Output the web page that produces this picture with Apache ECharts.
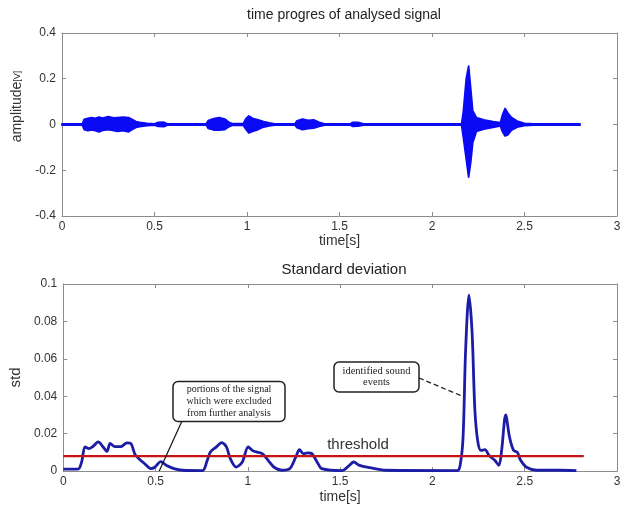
<!DOCTYPE html>
<html>
<head>
<meta charset="utf-8">
<script src="https://cdn.jsdelivr.net/npm/echarts@6/dist/echarts.min.js"></script>
<style>
html, body { margin: 0; padding: 0; background: #fff; }
#main { width: 628px; height: 511px; }
</style>
</head>
<body>
<div id="main"></div>
<script>
// envelope of the recorded signal (time [s], upper / lower amplitude [V])
var sigT  = [0, 0.11, 0.12, 0.14, 0.16, 0.18, 0.2, 0.22, 0.25, 0.28, 0.3, 0.33, 0.36, 0.38, 0.4, 0.42, 0.46, 0.5, 0.52, 0.55, 0.57,
             0.78, 0.79, 0.82, 0.85, 0.88, 0.9, 0.92, 0.98, 0.995, 1.01, 1.03, 1.06, 1.09, 1.12, 1.15,
             1.26, 1.27, 1.3, 1.33, 1.36, 1.39, 1.42, 1.56, 1.57, 1.6, 1.63,
             2.16, 2.17, 2.185, 2.198, 2.21, 2.22, 2.24, 2.28, 2.33, 2.37, 2.38, 2.395, 2.41, 2.43, 2.46, 2.5, 2.55, 2.8];
var sigHi = [0.003, 0.003, 0.022, 0.027, 0.03, 0.027, 0.032, 0.028, 0.034, 0.029, 0.03, 0.032, 0.03, 0.022, 0.013, 0.009, 0.005, 0.003, 0.009, 0.01, 0.003,
             0.003, 0.017, 0.026, 0.03, 0.024, 0.011, 0.004, 0.004, 0.027, 0.037, 0.027, 0.02, 0.013, 0.007, 0.003,
             0.003, 0.016, 0.024, 0.018, 0.02, 0.009, 0.003, 0.003, 0.009, 0.009, 0.003,
             0.003, 0.06, 0.2, 0.255, 0.15, 0.06, 0.03, 0.02, 0.012, 0.008, 0.04, 0.07, 0.05, 0.03, 0.015, 0.005, 0.003, 0.003];
var sigLo = [-0.003, -0.003, -0.022, -0.027, -0.024, -0.027, -0.032, -0.026, -0.022, -0.027, -0.03, -0.027, -0.032, -0.022, -0.013, -0.009, -0.005, -0.003, -0.008, -0.009, -0.003,
             -0.003, -0.017, -0.024, -0.024, -0.022, -0.011, -0.004, -0.004, -0.022, -0.037, -0.03, -0.022, -0.011, -0.006, -0.003,
             -0.003, -0.014, -0.022, -0.018, -0.016, -0.008, -0.003, -0.003, -0.008, -0.007, -0.003,
             -0.003, -0.06, -0.15, -0.23, -0.16, -0.08, -0.03, -0.02, -0.012, -0.006, -0.03, -0.05, -0.045, -0.025, -0.012, -0.005, -0.003, -0.003];

// moving standard deviation
var stdT = [0, 0.08, 0.1, 0.118, 0.14, 0.16, 0.19, 0.215, 0.237, 0.254, 0.28, 0.31, 0.345, 0.366, 0.388, 0.41, 0.44, 0.474, 0.496, 0.528, 0.56, 0.6, 0.646,
            0.754, 0.78, 0.797, 0.83, 0.858, 0.884, 0.905, 0.937, 0.97, 1.002, 1.024, 1.045, 1.078, 1.11, 1.142, 1.185,
            1.228, 1.26, 1.28, 1.3, 1.325, 1.347, 1.38, 1.4, 1.51, 1.55, 1.573, 1.606, 1.66, 1.746,
            2.134, 2.15, 2.166, 2.18, 2.198, 2.215, 2.23, 2.246, 2.263, 2.285, 2.306, 2.338, 2.36, 2.375, 2.397, 2.418, 2.44, 2.46, 2.478, 2.51, 2.565, 2.69, 2.78];
var stdV = [0.001, 0.001, 0.005, 0.0129, 0.012, 0.013, 0.0156, 0.013, 0.0105, 0.0147, 0.013, 0.013, 0.015, 0.0147, 0.009, 0.0066, 0.004, 0.0013, 0.002, 0.005, 0.003, 0.0013, 0.0004,
            0.0002, 0.0057, 0.0102, 0.0129, 0.0152, 0.0129, 0.0066, 0.0021, 0.0048, 0.0129, 0.011, 0.0102, 0.0093, 0.0057, 0.002, 0.0004,
            0.0013, 0.0075, 0.0114, 0.0093, 0.0097, 0.0093, 0.004, 0.0013, 0.0002, 0.003, 0.0048, 0.003, 0.0018, 0.0004,
            0.0002, 0.003, 0.018, 0.065, 0.094, 0.074, 0.0326, 0.0156, 0.011, 0.0114, 0.0084, 0.0057, 0.003, 0.011, 0.03, 0.018, 0.011, 0.01, 0.0057, 0.002, 0.0004, 0.0004, 0.0002];

var thresholdValue = 0.008;
var thresholdEnd = 2.82;

// annotation anchors (data coords)
var excludedPoint = [0.52, 0];
var eventPoint = [2.169, 0.0397];

var myChart = echarts.init(document.getElementById('main'));

var axisGray = '#8c8c8c';
var labelStyle = { color: '#333', fontSize: 12, fontFamily: 'Liberation Sans, Arial, sans-serif', showMinLabel: true, showMaxLabel: true };

function xAxes(grid, nameGap) {
    return [{
        gridIndex: grid, type: 'value', min: 0, max: 3, interval: 0.5, position: 'bottom',
        name: 'time[s]', nameLocation: 'middle', nameGap: nameGap,
        nameTextStyle: { color: '#333', fontSize: 14, fontFamily: 'Liberation Sans, Arial, sans-serif' },
        axisLine: { show: true, onZero: false, lineStyle: { color: axisGray } },
        axisTick: { show: true, inside: true, length: 4, lineStyle: { color: axisGray } },
        axisLabel: Object.assign({ margin: 5 }, labelStyle),
        splitLine: { show: false }
    }, {
        gridIndex: grid, type: 'value', min: 0, max: 3, interval: 0.5, position: 'top',
        axisLine: { show: true, onZero: false, lineStyle: { color: axisGray } },
        axisTick: { show: true, inside: true, length: 4, lineStyle: { color: axisGray } },
        axisLabel: { show: false }, splitLine: { show: false }
    }];
}

function yAxes(grid, min, max, interval, name, nameStyle) {
    return [{
        gridIndex: grid, type: 'value', min: min, max: max, interval: interval, position: 'left',
        name: name, nameLocation: 'middle', nameGap: 36,
        nameTextStyle: nameStyle,
        axisLine: { show: true, onZero: false, lineStyle: { color: axisGray } },
        axisTick: { show: true, inside: true, length: 4, lineStyle: { color: axisGray } },
        axisLabel: Object.assign({ margin: 6 }, labelStyle),
        splitLine: { show: false }
    }, {
        gridIndex: grid, type: 'value', min: min, max: max, interval: interval, position: 'right',
        axisLine: { show: true, onZero: false, lineStyle: { color: axisGray } },
        axisTick: { show: true, inside: true, length: 4, lineStyle: { color: axisGray } },
        axisLabel: { show: false }, splitLine: { show: false }
    }];
}

var option = {
    animation: false,
    backgroundColor: '#fff',
    title: [{
        text: 'time progres of analysed signal', left: 339, top: 3, textAlign: 'center',
        textStyle: { fontSize: 14, fontWeight: 'normal', color: '#222', fontFamily: 'Liberation Sans, Arial, sans-serif' }
    }, {
        text: 'Standard deviation', left: 339, top: 257, textAlign: 'center',
        textStyle: { fontSize: 15, fontWeight: 'normal', color: '#222', fontFamily: 'Liberation Sans, Arial, sans-serif' }
    }],
    grid: [
        { left: 62, right: 11, top: 33, height: 183 },
        { left: 62, right: 11, top: 284, height: 187 }
    ],
    xAxis: xAxes(0, 15).concat(xAxes(1, 19)),
    yAxis: yAxes(0, -0.4, 0.4, 0.2, '{a|amplitude}{b|[V]}', {
        color: '#333', fontFamily: 'Liberation Sans, Arial, sans-serif', padding: [0, 0, 0, 36],
        rich: { a: { fontSize: 14, color: '#333' }, b: { fontSize: 9, color: '#333' } }
    }).concat(yAxes(1, 0, 0.1, 0.02, 'std', {
        color: '#333', fontSize: 15, fontFamily: 'Liberation Sans, Arial, sans-serif'
    })),
    series: [{
        name: 'signal',
        type: 'custom',
        xAxisIndex: 0, yAxisIndex: 0,
        data: sigT.map(function (t, i) { return [t, sigHi[i], sigLo[i]]; }),
        encode: { x: 0, y: [1, 2] },
        renderItem: function (params, api) {
            if (params.dataIndex !== 0) return null;
            var pts = [], i;
            for (i = 0; i < sigT.length; i++) pts.push(api.coord([sigT[i], sigHi[i]]));
            for (i = sigT.length - 1; i >= 0; i--) pts.push(api.coord([sigT[i], sigLo[i]]));
            return {
                type: 'polygon',
                shape: { points: pts },
                style: { fill: '#0a0af5', stroke: '#0a0af5', lineWidth: 1.8, lineJoin: 'round' }
            };
        }
    }, {
        name: 'std',
        type: 'line',
        xAxisIndex: 2, yAxisIndex: 2,
        data: stdT.map(function (t, i) { return [t, stdV[i]]; }),
        showSymbol: false,
        smooth: 0.3,
        lineStyle: { color: '#1c1ca6', width: 2.8 },
        z: 3
    }, {
        name: 'threshold',
        type: 'line',
        xAxisIndex: 2, yAxisIndex: 2,
        data: [[0, thresholdValue], [thresholdEnd, thresholdValue]],
        showSymbol: false,
        lineStyle: { color: '#c41414', width: 2.2 },
        z: 4
    }]
};

myChart.setOption(option);

var p1 = myChart.convertToPixel({ seriesIndex: 1 }, excludedPoint);
var p2 = myChart.convertToPixel({ seriesIndex: 1 }, eventPoint);
var boxFont = 'Liberation Serif, Times New Roman, serif';

myChart.setOption({
    graphic: [
        { type: 'line', shape: { x1: 182, y1: 421, x2: p1[0], y2: p1[1] }, style: { stroke: '#111', lineWidth: 1.2 }, z: 10 },
        { type: 'rect', shape: { x: 173, y: 381.5, width: 112, height: 40, r: 5 }, style: { fill: '#fff', stroke: '#222', lineWidth: 1.5 }, z: 10 },
        { type: 'text', z: 11,
          style: { text: 'portions of the signal\nwhich were excluded\nfrom further analysis', x: 229, y: 383, textAlign: 'center',
                   font: '10px ' + boxFont, fill: '#222', lineHeight: 12.3 } },
        { type: 'line', shape: { x1: 419, y1: 378, x2: p2[0], y2: p2[1] }, style: { stroke: '#222', lineWidth: 1.3, lineDash: [5, 3] }, z: 10 },
        { type: 'rect', shape: { x: 334, y: 362, width: 85, height: 30, r: 5 }, style: { fill: '#fff', stroke: '#222', lineWidth: 1.5 }, z: 10 },
        { type: 'text', z: 11,
          style: { text: 'identified sound\nevents', x: 376.5, y: 365, textAlign: 'center',
                   font: '10.5px ' + boxFont, fill: '#222', lineHeight: 11.7 } },
        { type: 'text', z: 11,
          style: { text: 'threshold', x: 358, y: 437, textAlign: 'center',
                   font: '15px Liberation Sans, Arial, sans-serif', fill: '#333' } }
    ]
});
</script>
</body>
</html>
